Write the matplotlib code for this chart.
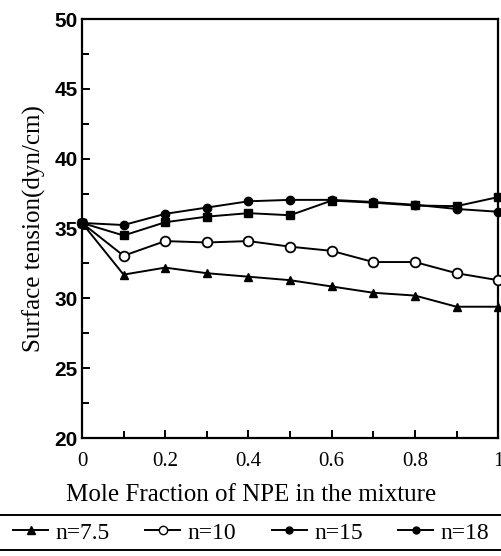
import numpy as np
import matplotlib
matplotlib.use('Agg')
import matplotlib.pyplot as plt
from matplotlib.lines import Line2D
from matplotlib.ticker import MultipleLocator

x = [0, 0.1, 0.2, 0.3, 0.4, 0.5, 0.6, 0.7, 0.8, 0.9, 1.0]
n75 = [35.4, 31.7, 32.2, 31.8, 31.55, 31.3, 30.85, 30.4, 30.2, 29.4, 29.4]
n10 = [35.4, 33.05, 34.1, 34.0, 34.1, 33.7, 33.4, 32.6, 32.6, 31.8, 31.3]
n15 = [35.4, 35.25, 36.05, 36.5, 36.95, 37.05, 37.05, 36.9, 36.7, 36.4, 36.2]
n18 = [35.4, 34.5, 35.45, 35.85, 36.1, 35.95, 37.0, 36.85, 36.65, 36.6, 37.25]
labels = ["n=7.5", "n=10", "n=15", "n=18"]
xticks = [0, 0.2, 0.4, 0.6, 0.8, 1.0]
xticklabels = ["0", "0.2", "0.4", "0.6", "0.8", "1"]

serif = ['Liberation Serif', 'DejaVu Serif']
sans = ['Liberation Sans', 'DejaVu Sans']

fig = plt.figure(figsize=(5.02, 5.56), dpi=100)
ax = fig.add_axes([0.1633, 0.2122, 0.829, 0.7536])

kw = dict(color='black', lw=1.4, clip_on=False, zorder=3)
ax.plot(x, n75, marker='^', ms=6, mfc='black', **kw)
ax.plot(x, n10, marker='o', ms=7, mfc='white', mew=1.3, **kw)
ax.plot(x, n15, marker='o', ms=6, mfc='black', **kw)
ax.plot(x, n18, marker='s', ms=6, mfc='black', **kw)

ax.set_xlim(0, 1)
ax.set_ylim(20, 50)
ax.set_xticks(xticks)
ax.set_xticklabels(xticklabels, family=serif, fontsize=15)
ax.xaxis.set_minor_locator(MultipleLocator(0.1))
ax.yaxis.set_major_locator(MultipleLocator(5))
ax.yaxis.set_minor_locator(MultipleLocator(2.5))
for lab in ax.get_yticklabels():
    lab.set_family(sans)
    lab.set_fontweight('bold')
    lab.set_fontsize(15)
ax.tick_params(which='both', direction='in', width=1.4)
ax.tick_params(which='major', length=6)
ax.tick_params(which='minor', length=5)
ax.tick_params(axis='x', pad=10)
ax.tick_params(axis='y', pad=3)
for s in ax.spines.values():
    s.set_linewidth(1.6)

ax.set_xlabel("Mole Fraction of NPE in the mixture", family=serif,
              fontsize=18)
ax.xaxis.set_label_coords(0.5, 0.129, transform=fig.transFigure)
ax.set_ylabel("Surface tension(dyn/cm)", family=serif, fontsize=18,
              labelpad=6)

handles = [
    Line2D([], [], color='black', lw=1.4, marker='^', ms=6, mfc='black'),
    Line2D([], [], color='black', lw=1.4, marker='o', ms=6, mfc='white'),
    Line2D([], [], color='black', lw=1.4, marker='o', ms=5, mfc='black'),
    Line2D([], [], color='black', lw=1.4, marker='o', ms=5, mfc='black'),
]
fig.legend(handles, labels, loc='center', bbox_to_anchor=(0.5, 0.0414),
           ncol=4, frameon=False, handlelength=1.5, handletextpad=0.3,
           columnspacing=1.5, prop={'family': serif, 'size': 17})

fig.add_artist(Line2D([0, 1], [0.0737, 0.0737], color='black', lw=1.4,
                      transform=fig.transFigure))
fig.add_artist(Line2D([0, 1], [0.0108, 0.0108], color='black', lw=1.4,
                      transform=fig.transFigure))

fig.savefig("out.png", dpi=100)
